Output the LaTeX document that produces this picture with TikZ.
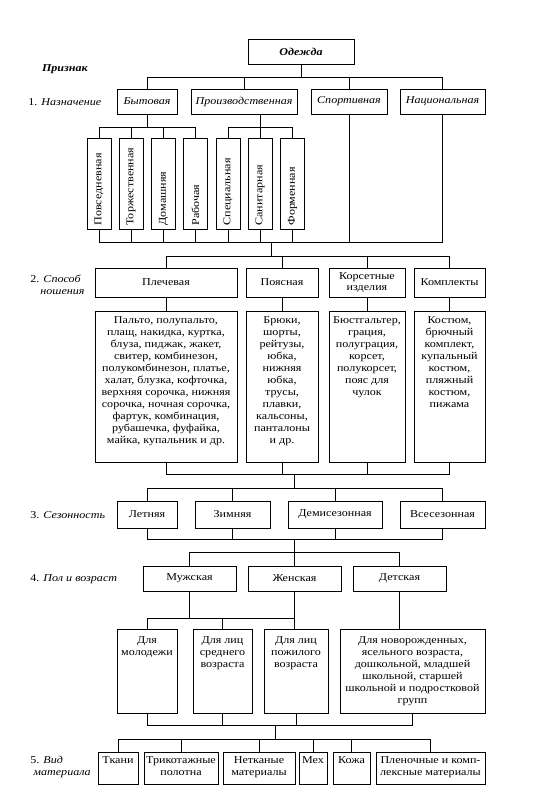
\documentclass[tikz,border=0pt]{standalone}
\usepackage{fontspec}
\setmainfont{Liberation Serif}[FakeStretch=1.15]
\usetikzlibrary{positioning}

% box with its text set from the top
\newcommand{\topbox}[4]{\parbox[c][#2][t]{#1}{\centering\vspace*{#3}#4}}

\begin{document}
\begin{tikzpicture}[x=1pt,y=-1pt,line width=0.8pt,
    every node/.append style={font=\fontsize{10.5pt}{12pt}\selectfont},
    box/.style={draw,inner sep=1pt,align=center},
    tbox/.style={draw,inner sep=0pt},
    vbox/.style={draw,rotate=90,minimum width=91,minimum height=24,
      text width=84,align=left,inner xsep=3pt,inner ysep=0pt},
    label/.style={anchor=west,align=left,inner sep=0pt}]
  \useasboundingbox (0,0) rectangle (552,799);

  % labels on the left
  \node at (65,69) {\textbf{\textit{Признак}}};
  \node[label] (l1) at (28,102) {1. \textit{Назначение}};
  \node[label] (l2) at (30,285) {2. \textit{Способ}\\\hspace{10pt}\textit{ношения}};
  \node[label] (l3) at (30,515) {3. \textit{Сезонность}};
  \node[label] (l4) at (30,579) {4. \textit{Пол и возраст}};
  \node[label] (l5) at (30,767) {5. \textit{Вид}\\\hspace{3pt}\textit{материала}};

  % top
  \node[box,minimum width=106,minimum height=25] (odezhda) at (301,51.5) {\textbf{\textit{Одежда}}};

  % 1. purpose
  \node[box,minimum width=60,minimum height=25]  (byt)    at (147,101.5) {\textit{Бытовая}};
  \node[box,minimum width=106,minimum height=25] (proizv) at (244,101.5) {\textit{Производственная}};
  \node[box,minimum width=76,minimum height=25]  (sport)  at (349,101.5) {\textit{Спортивная}};
  \node[box,minimum width=85,minimum height=25]  (nats)   at (442.5,101.5) {\textit{Национальная}};

  \node[vbox] (povs)  at (99,183.5)    {Повседневная};
  \node[vbox] (torzh) at (131,183.5)   {Торжественная};
  \node[vbox] (dom)   at (163.5,183.5) {Домашняя};
  \node[vbox] (rab)   at (195.5,183.5) {Рабочая};
  \node[vbox] (spets) at (228,183.5)   {Специальная};
  \node[vbox] (sanit) at (260,183.5)   {Санитарная};
  \node[vbox] (form)  at (292.5,183.5) {Форменная};

  % 2. way of wearing
  \node[box,minimum width=142,minimum height=29] (plech)  at (166,282.5)   {Плечевая};
  \node[box,minimum width=72,minimum height=29]  (poyas)  at (282,282.5)   {Поясная};
  \node[box,minimum width=76,minimum height=29]  (korset) at (367,282.5)   {Корсетные\\[-1pt]изделия};
  \node[box,minimum width=71,minimum height=29]  (kompl)  at (449.5,282.5) {Комплекты};

  \node[tbox] (plechD) at (166,386.5) {\topbox{142pt}{151pt}{6pt}{Пальто, полупальто,\\
    плащ, накидка, куртка,\\ блуза, пиджак, жакет,\\ свитер, комбинезон,\\
    полукомбинезон, платье,\\ халат, блузка, кофточка,\\ верхняя сорочка, нижняя\\
    сорочка, ночная сорочка,\\ фартук, комбинация,\\ рубашечка, фуфайка,\\
    майка, купальник и др.}};
  \node[tbox] (poyasD) at (282,386.5) {\topbox{72pt}{151pt}{6pt}{Брюки,\\ шорты,\\
    рейтузы,\\ юбка,\\ нижняя\\ юбка,\\ трусы,\\ плавки,\\ кальсоны,\\ панталоны\\ и др.}};
  \node[tbox] (korsetD) at (367,386.5) {\topbox{76pt}{151pt}{6pt}{Бюстгальтер,\\ грация,\\
    полуграция,\\ корсет,\\ полукорсет,\\ пояс для\\ чулок}};
  \node[tbox] (komplD) at (449.5,386.5) {\topbox{71pt}{151pt}{6pt}{Костюм,\\ брючный\\
    комплект,\\ купальный\\ костюм,\\ пляжный\\ костюм,\\ пижама}};

  % 3. season
  \node[box,minimum width=60,minimum height=27] (let)  at (147,514.5)   {Летняя};
  \node[box,minimum width=75,minimum height=27] (zim)  at (232.5,514.5) {Зимняя};
  \node[box,minimum width=94,minimum height=27] (demi) at (335,514.5)   {Демисезонная};
  \node[box,minimum width=85,minimum height=27] (vses) at (442.5,514.5) {Всесезонная};

  % 4. sex and age
  \node[box,minimum width=93,minimum height=25] (muzh) at (189.5,578.5) {Мужская};
  \node[box,minimum width=93,minimum height=25] (zhen) at (294.5,578.5) {Женская};
  \node[box,minimum width=93,minimum height=25] (det)  at (399.5,578.5) {Детская};

  \node[tbox] (mol)  at (147,671)   {\topbox{60pt}{84pt}{8pt}{Для\\ молодежи}};
  \node[tbox] (sred) at (222.5,671) {\topbox{59pt}{84pt}{8pt}{Для лиц\\ среднего\\ возраста}};
  \node[tbox] (pozh) at (296,671)   {\topbox{64pt}{84pt}{8pt}{Для лиц\\ пожилого\\ возраста}};
  \node[tbox] (novo) at (412.5,671) {\topbox{145pt}{84pt}{8pt}{Для новорожденных,\\
    ясельного возраста,\\ дошкольной, младшей\\ школьной, старшей\\
    школьной и подростковой\\ групп}};

  % 5. material
  \node[tbox] (tkani) at (118,768)   {\topbox{40pt}{32pt}{5pt}{Ткани}};
  \node[tbox] (trik)  at (181,768)   {\topbox{74pt}{32pt}{5pt}{Трикотажные\\ полотна}};
  \node[tbox] (netk)  at (259,768)   {\topbox{72pt}{32pt}{5pt}{Нетканые\\ материалы}};
  \node[tbox] (meh)   at (313,768)   {\topbox{28pt}{32pt}{5pt}{Мех}};
  \node[tbox] (kozha) at (351.5,768) {\topbox{37pt}{32pt}{5pt}{Кожа}};
  \node[tbox] (plen)  at (430.5,768) {\topbox{109pt}{32pt}{5pt}{Пленочные и комп-\\ лексные материалы}};

  % connectors
  \coordinate (b0) at (301,77);
  \draw (odezhda) -- (b0);
  \foreach \n in {byt,proizv,sport,nats} \draw (\n) |- (b0);

  \coordinate (b1) at (147,127);
  \draw (byt) -- (b1);
  \foreach \n in {povs,torzh,dom,rab} \draw (\n) |- (b1);
  \coordinate (b1p) at (260,127);
  \draw (sanit) -- (sanit |- proizv.south);
  \foreach \n in {spets,form} \draw (\n) |- (b1p);

  \coordinate (b2) at (271,242);
  \foreach \n in {povs,torzh,dom,rab,spets,sanit,form,sport,nats} \draw (\n) |- (b2);
  \coordinate (b3) at (271,256);
  \draw (b2) -- (b3);
  \foreach \n in {plech,poyas,korset,kompl} {
    \draw (\n) |- (b3);
    \draw (\n) -- (\n D);
  }

  \coordinate (b4) at (294,474);
  \foreach \n in {plechD,poyasD,korsetD,komplD} \draw (\n) |- (b4);
  \coordinate (b5) at (294,488);
  \draw (b4) -- (b5);
  \foreach \n in {let,zim,demi,vses} \draw (\n) |- (b5);

  \coordinate (b6) at (294,539);
  \foreach \n in {let,zim,demi,vses} \draw (\n) |- (b6);
  \coordinate (b7) at (294,552);
  \draw (b6) -- (b7);
  \foreach \n in {muzh,zhen,det} \draw (\n) |- (b7);

  \coordinate (b8) at (294.5,618);
  \draw (zhen) -- (zhen |- pozh.north);
  \foreach \n in {muzh,mol,sred} \draw (\n) |- (b8);
  \draw (det) -- (det |- novo.north);

  \coordinate (b9) at (275,725);
  \foreach \n in {mol,sred,pozh,novo} \draw (\n) |- (b9);
  \coordinate (b10) at (275,739);
  \draw (b9) -- (b10);
  \foreach \n in {tkani,trik,netk,meh,kozha,plen} \draw (\n) |- (b10);
\end{tikzpicture}
\end{document}
